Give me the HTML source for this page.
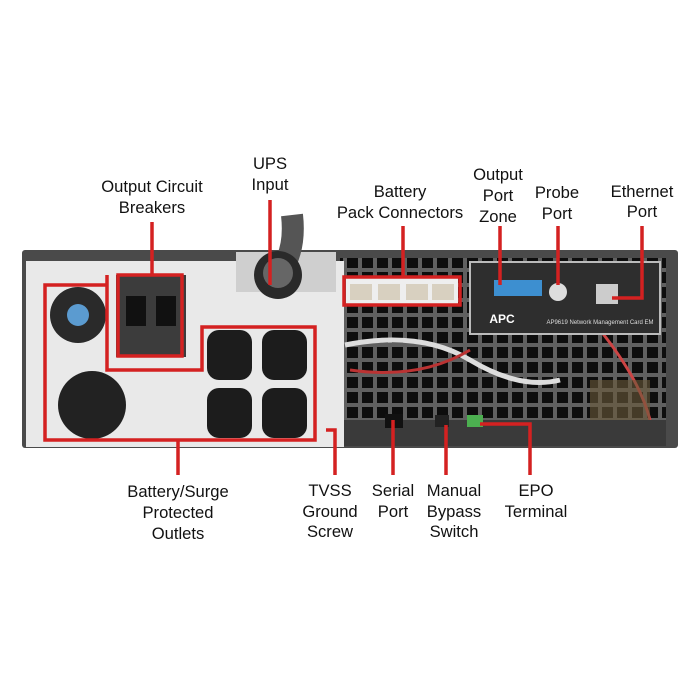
<!DOCTYPE html>
<html><head><meta charset="utf-8"><style>
html,body{margin:0;padding:0;background:#fff}
svg{display:block}
text{font-family:"Liberation Sans",sans-serif;font-size:16.6px;fill:#111;text-anchor:middle}
</style></head><body>
<svg width="700" height="700" viewBox="0 0 700 700">
<defs>
<pattern id="grill" width="15" height="15" patternUnits="userSpaceOnUse">
<rect width="15" height="15" fill="#606060"/>
<rect x="2" y="2" width="11" height="11" fill="#0d0d0d"/>
</pattern>
</defs>
<!-- chassis -->
<rect x="22" y="250" width="656" height="198" fill="#4a4a4a" rx="3"/>
<rect x="340" y="258" width="326" height="186" fill="url(#grill)"/>
<path d="M345 345 Q420 330 470 360 T560 380" stroke="#ddd" stroke-width="5" fill="none"/>
<path d="M350 370 Q420 380 470 350" stroke="#b33" stroke-width="3" fill="none"/>
<path d="M600 330 Q640 380 650 420" stroke="#c44" stroke-width="3" fill="none"/>
<rect x="590" y="380" width="60" height="40" fill="#6a5a3a" opacity=".6"/>
<rect x="340" y="420" width="326" height="26" fill="#3a3a3a"/>
<!-- left plate -->
<rect x="26" y="261" width="318" height="186" fill="#e9e9e9"/>
<rect x="236" y="252" width="100" height="40" fill="#cfcfcf"/>
<!-- cable -->
<path d="M292 215 Q296 250 280 272" stroke="#555" stroke-width="22" fill="none"/>
<circle cx="278" cy="275" r="24" fill="#2a2a2a"/>
<circle cx="278" cy="273" r="15" fill="#666"/>
<!-- locking receptacles -->
<circle cx="78" cy="315" r="28" fill="#2a2a2a"/>
<circle cx="78" cy="315" r="11" fill="#5b9bd0"/>
<circle cx="92" cy="405" r="34" fill="#222"/>
<!-- breakers -->
<rect x="116" y="275" width="70" height="82" fill="#3c3c3c"/>
<rect x="126" y="296" width="20" height="30" fill="#111"/>
<rect x="156" y="296" width="20" height="30" fill="#111"/>
<!-- outlets -->
<rect x="207" y="330" width="45" height="50" rx="12" fill="#1c1c1c"/>
<rect x="262" y="330" width="45" height="50" rx="12" fill="#1c1c1c"/>
<rect x="207" y="388" width="45" height="50" rx="12" fill="#1c1c1c"/>
<rect x="262" y="388" width="45" height="50" rx="12" fill="#1c1c1c"/>
<!-- battery connectors -->
<rect x="346" y="278" width="112" height="26" fill="#eee"/>
<rect x="350" y="284" width="22" height="16" fill="#d8d0c0"/>
<rect x="378" y="284" width="22" height="16" fill="#d8d0c0"/>
<rect x="406" y="284" width="22" height="16" fill="#d8d0c0"/>
<rect x="432" y="284" width="22" height="16" fill="#d8d0c0"/>
<!-- network card -->
<rect x="470" y="262" width="190" height="72" fill="#2e2e2e" stroke="#bbb" stroke-width="2"/>
<rect x="494" y="280" width="48" height="16" fill="#3d8fd0"/>
<circle cx="558" cy="292" r="9" fill="#ddd"/>
<rect x="596" y="284" width="22" height="20" fill="#ccc"/>
<text x="502" y="323" style="font-size:12px;fill:#fff;font-weight:bold">APC</text>
<text x="600" y="324" style="font-size:6px;fill:#ddd">AP9619 Network Management Card EM</text>
<rect x="385" y="414" width="18" height="14" fill="#111"/>
<rect x="435" y="415" width="14" height="12" fill="#222"/>
<rect x="467" y="415" width="16" height="12" fill="#4caf50"/>
<!-- red boxes -->
<g stroke="#d42121" stroke-width="3.5" fill="none">
<rect x="118" y="275" width="64" height="81"/>
<path d="M107 275 V370 H202 V327 H315 V440 H45 V285 H107"/>
<rect x="344" y="277" width="116" height="28"/>
<path d="M152 222 V275"/>
<path d="M270 200 V285"/>
<path d="M403 226 V277"/>
<path d="M500 226 V285"/>
<path d="M558 226 V285"/>
<path d="M642 226 V298 H612"/>
<path d="M178 440 V475"/>
<path d="M326 430 H335 V475"/>
<path d="M393 420 V475"/>
<path d="M446 425 V475"/>
<path d="M480 424 H530 V475"/>
</g>
<!-- labels -->
<text x="152" y="192">Output Circuit</text>
<text x="152" y="213">Breakers</text>
<text x="270" y="169">UPS</text>
<text x="270" y="190">Input</text>
<text x="400" y="197">Battery</text>
<text x="400" y="218">Pack Connectors</text>
<text x="498" y="180">Output</text>
<text x="498" y="201">Port</text>
<text x="498" y="222">Zone</text>
<text x="557" y="198">Probe</text>
<text x="557" y="219">Port</text>
<text x="642" y="197">Ethernet</text>
<text x="642" y="217">Port</text>
<text x="178" y="497">Battery/Surge</text>
<text x="178" y="518">Protected</text>
<text x="178" y="539">Outlets</text>
<text x="330" y="496">TVSS</text>
<text x="330" y="517">Ground</text>
<text x="330" y="537">Screw</text>
<text x="393" y="496">Serial</text>
<text x="393" y="517">Port</text>
<text x="454" y="496">Manual</text>
<text x="454" y="517">Bypass</text>
<text x="454" y="537">Switch</text>
<text x="536" y="496">EPO</text>
<text x="536" y="517">Terminal</text>
</svg>
</body></html>
